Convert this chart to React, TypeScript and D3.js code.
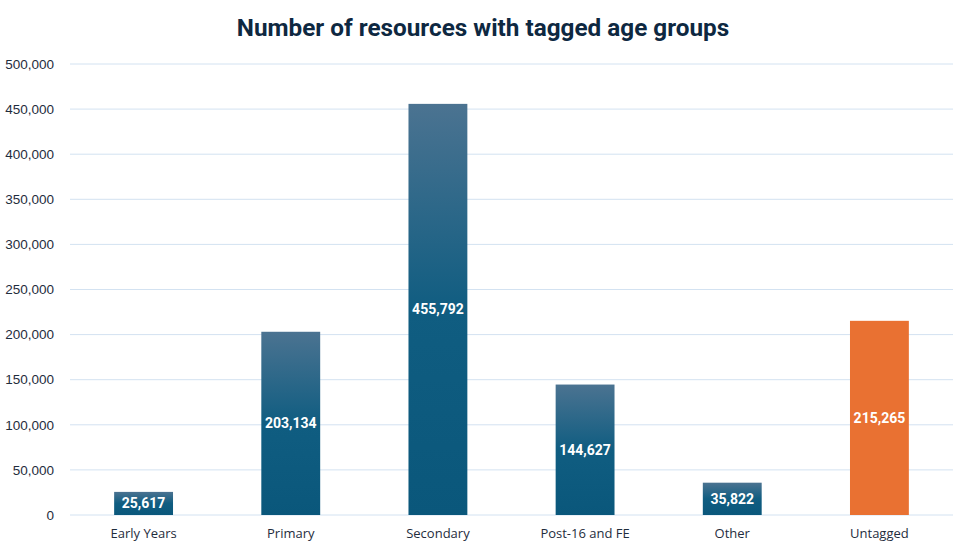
import React from "react";
import * as d3 from "d3";

const categories = ["Early Years", "Primary", "Secondary", "Post-16 and FE", "Other", "Untagged"];
const values = [25617, 203134, 455792, 144627, 35822, 215265];
const yTicks = [0, 50000, 100000, 150000, 200000, 250000, 300000, 350000, 400000, 450000, 500000];
const title = "Number of resources with tagged age groups";

const W = 964, H = 552;
const plotLeft = 70, plotRight = 953, plotTop = 64, plotBottom = 515;

export default function App() {
  const x = d3.scaleBand<string>().domain(categories).range([plotLeft, plotRight]).paddingInner(0.6).paddingOuter(0.3);
  const y = d3.scaleLinear().domain([0, 500000]).range([plotBottom, plotTop]);
  const fmt = d3.format(",");
  return (
    <svg width={W} height={H} style={{ position: "absolute", left: 0, top: 0, background: "#fff" }}>
      <defs>
        <linearGradient id="bg" x1="0" y1="0" x2="0" y2="1">
          <stop offset="0" stopColor="#4b7391" />
          <stop offset="0.5" stopColor="#105d81" />
          <stop offset="1" stopColor="#0a577b" />
        </linearGradient>
      </defs>
      <text x={483} y={36} textAnchor="middle" fontFamily="Roboto" fontWeight={700} fontSize={24.3} fill="#0e2841">{title}</text>
      {yTicks.map((t) => (
        <g key={t}>
          <line x1={plotLeft} x2={plotRight} y1={y(t)} y2={y(t)} stroke="#d3e2f1" strokeWidth={1} />
          <text x={54} y={y(t)} dy="0.35em" textAnchor="end" fontFamily="Liberation Sans" fontSize={13.5} fill="#1f2d3d">{fmt(t)}</text>
        </g>
      ))}
      {categories.map((c, i) => {
        const v = values[i];
        const bx = x(c)!;
        const bw = x.bandwidth();
        const top = y(v);
        const isOrange = c === "Untagged";
        return (
          <g key={c}>
            <rect x={bx} y={top} width={bw} height={plotBottom - top} fill={isOrange ? "#e97132" : "url(#bg)"} />
            <text x={bx + bw / 2} y={(top + plotBottom) / 2} dy="0.35em" textAnchor="middle" fontFamily="Roboto" fontWeight={700} fontSize={14} fill="#fff">{fmt(v)}</text>
            <text x={bx + bw / 2} y={538} textAnchor="middle" fontFamily="Open Sans" fontSize={13} fill="#1f2d3d">{c}</text>
          </g>
        );
      })}
    </svg>
  );
}
